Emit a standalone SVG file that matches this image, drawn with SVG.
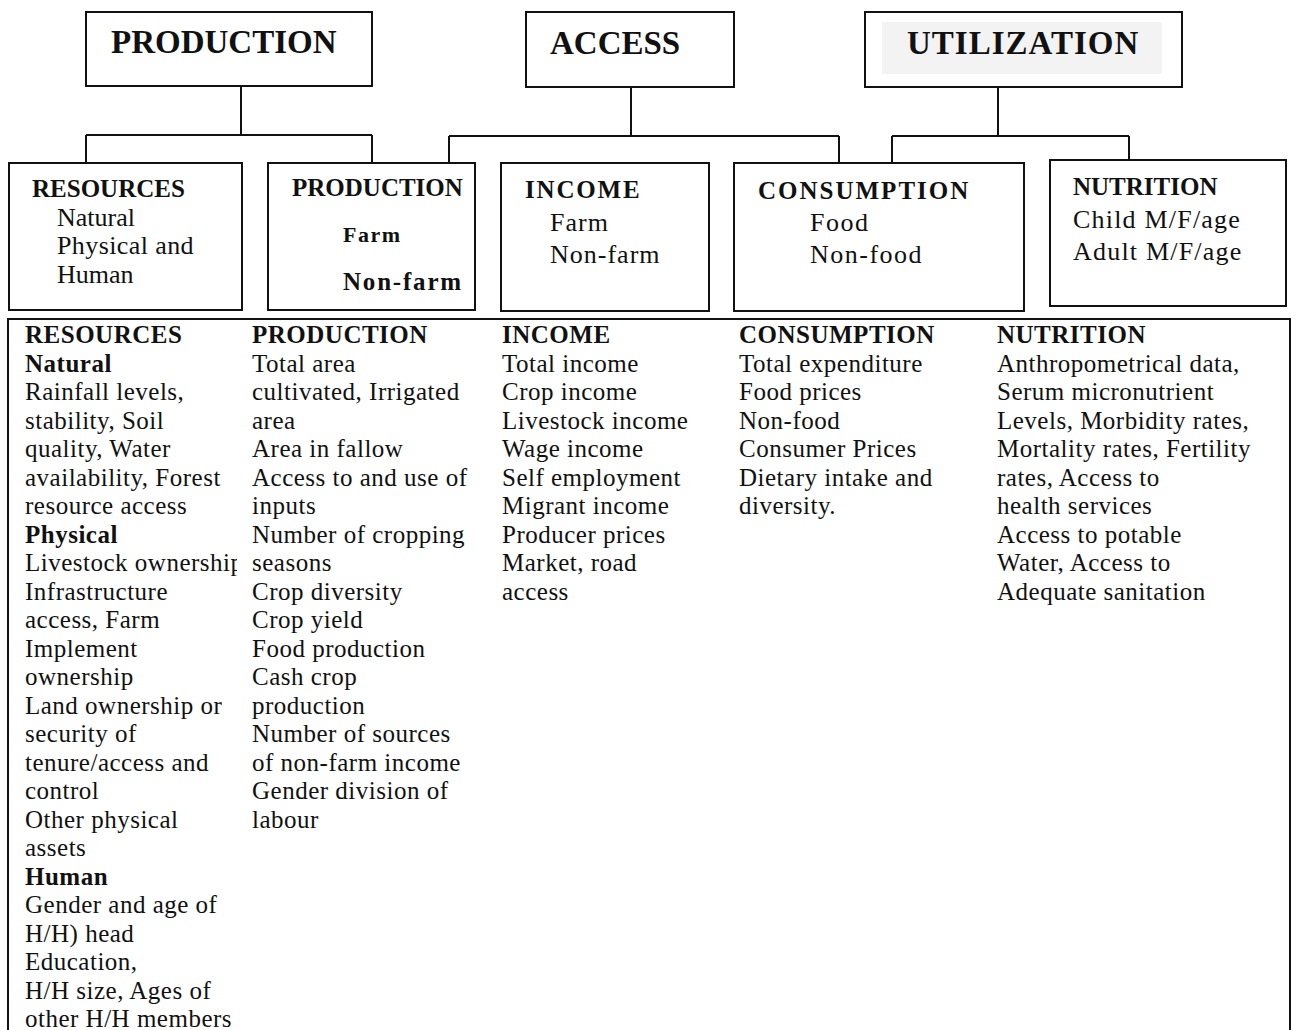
<svg xmlns="http://www.w3.org/2000/svg" width="1296" height="1030" viewBox="0 0 1296 1030">
  <style>
    .box { fill: #ffffff; stroke: #111111; stroke-width: 2; }
    .wire { fill: none; stroke: #111111; stroke-width: 2; }
    text { font-family: "Liberation Serif", "Times New Roman", serif; fill: #111111; }
    .title { font-size: 33px; font-weight: bold; }
    .head { font-size: 25px; font-weight: bold; }
    .item { font-size: 26px; }
    .cell { font-size: 25px; letter-spacing: 0.5px; }
    .b { font-weight: bold; }
  </style>
  <defs>
    <clipPath id="col1">
      <rect x="0" y="300" width="237" height="740"/>
    </clipPath>
  </defs>

  <rect width="1296" height="1030" fill="#ffffff"/>

  <!-- Pillar headings -->
  <g id="production-pillar">
    <rect class="box" x="86" y="12" width="286" height="74"/>
    <text class="title" x="111" y="53">PRODUCTION</text>
  </g>
  <g id="access-pillar">
    <rect class="box" x="526" y="12" width="208" height="75"/>
    <text class="title" x="550" y="54">ACCESS</text>
  </g>
  <g id="utilization-pillar">
    <rect class="box" x="865" y="12" width="317" height="75"/>
    <rect x="882" y="22" width="280" height="52" fill="#f3f3f3"/>
    <text class="title" x="907" y="54" letter-spacing="1">UTILIZATION</text>
  </g>

  <!-- Connectors from pillars to categories -->
  <g id="connectors">
    <path class="wire" d="M241,86 V135 M86,135 H372 M86,135 V163 M372,135 V163"/>
    <path class="wire" d="M631,87 V136 M449,136 H839 M449,136 V163 M839,136 V163"/>
    <path class="wire" d="M998,87 V136 M892,136 H1129 M892,136 V163 M1129,136 V160"/>
  </g>

  <!-- Category boxes -->
  <g id="resources">
    <rect class="box" x="9" y="163" width="233" height="147"/>
    <text class="head" x="32" y="197">RESOURCES</text>
    <text class="item" x="57" y="226" font-size="24">Natural</text>
    <text class="item" x="57" y="254" font-size="24" letter-spacing="0.4">Physical and</text>
    <text class="item" x="57" y="283" font-size="24">Human</text>
  </g>
  <g id="production">
    <rect class="box" x="268" y="163" width="207" height="147"/>
    <text class="head" x="292" y="196">PRODUCTION</text>
    <text class="b" x="343" y="242" font-size="22" letter-spacing="1.5">Farm</text>
    <text class="b" x="343" y="290" font-size="25" letter-spacing="1.8">Non-farm</text>
  </g>
  <g id="income">
    <rect class="box" x="501" y="163" width="208" height="148"/>
    <text class="head" x="525" y="198" font-size="26" letter-spacing="1.8">INCOME</text>
    <text class="item" x="550" y="231" letter-spacing="1">Farm</text>
    <text class="item" x="550" y="263" letter-spacing="1">Non-farm</text>
  </g>
  <g id="consumption">
    <rect class="box" x="734" y="163" width="290" height="148"/>
    <text class="head" x="758" y="199" font-size="26" letter-spacing="2">CONSUMPTION</text>
    <text class="item" x="810" y="231" letter-spacing="1.5">Food</text>
    <text class="item" x="810" y="263" letter-spacing="1.5">Non-food</text>
  </g>
  <g id="nutrition">
    <rect class="box" x="1050" y="160" width="236" height="146"/>
    <text class="head" x="1073" y="195">NUTRITION</text>
    <text class="item" x="1073" y="228" letter-spacing="1.2">Child M/F/age</text>
    <text class="item" x="1073" y="260" letter-spacing="1.2">Adult M/F/age</text>
  </g>

  <!-- Indicator table (open at the bottom) -->
  <g id="indicator-table">
    <path class="wire" d="M8,1032 V319 H1290 V1032"/>

    <text class="cell" clip-path="url(#col1)" x="25" y="343">
      <tspan class="b" x="25" y="343">RESOURCES</tspan>
      <tspan class="b" x="25" dy="28.5">Natural</tspan>
      <tspan x="25" dy="28.5">Rainfall levels,</tspan>
      <tspan x="25" dy="28.5">stability, Soil</tspan>
      <tspan x="25" dy="28.5">quality, Water</tspan>
      <tspan x="25" dy="28.5">availability, Forest</tspan>
      <tspan x="25" dy="28.5">resource access</tspan>
      <tspan class="b" x="25" dy="28.5">Physical</tspan>
      <tspan x="25" dy="28.5">Livestock ownership</tspan>
      <tspan x="25" dy="28.5">Infrastructure</tspan>
      <tspan x="25" dy="28.5">access, Farm</tspan>
      <tspan x="25" dy="28.5">Implement</tspan>
      <tspan x="25" dy="28.5">ownership</tspan>
      <tspan x="25" dy="28.5">Land ownership or</tspan>
      <tspan x="25" dy="28.5">security of</tspan>
      <tspan x="25" dy="28.5">tenure/access and</tspan>
      <tspan x="25" dy="28.5">control</tspan>
      <tspan x="25" dy="28.5">Other physical</tspan>
      <tspan x="25" dy="28.5">assets</tspan>
      <tspan class="b" x="25" dy="28.5">Human</tspan>
      <tspan x="25" dy="28.5">Gender and age of</tspan>
      <tspan x="25" dy="28.5">H/H) head</tspan>
      <tspan x="25" dy="28.5">Education,</tspan>
      <tspan x="25" dy="28.5">H/H size, Ages of</tspan>
      <tspan x="25" dy="28.5">other H/H members</tspan>
    </text>

    <text class="cell" x="252" y="343">
      <tspan class="b" x="252" y="343">PRODUCTION</tspan>
      <tspan x="252" dy="28.5">Total area</tspan>
      <tspan x="252" dy="28.5">cultivated, Irrigated</tspan>
      <tspan x="252" dy="28.5">area</tspan>
      <tspan x="252" dy="28.5">Area in fallow</tspan>
      <tspan x="252" dy="28.5">Access to and use of</tspan>
      <tspan x="252" dy="28.5">inputs</tspan>
      <tspan x="252" dy="28.5">Number of cropping</tspan>
      <tspan x="252" dy="28.5">seasons</tspan>
      <tspan x="252" dy="28.5">Crop diversity</tspan>
      <tspan x="252" dy="28.5">Crop yield</tspan>
      <tspan x="252" dy="28.5">Food production</tspan>
      <tspan x="252" dy="28.5">Cash crop</tspan>
      <tspan x="252" dy="28.5">production</tspan>
      <tspan x="252" dy="28.5">Number of sources</tspan>
      <tspan x="252" dy="28.5">of non-farm income</tspan>
      <tspan x="252" dy="28.5">Gender division of</tspan>
      <tspan x="252" dy="28.5">labour</tspan>
    </text>

    <text class="cell" x="502" y="343">
      <tspan class="b" x="502" y="343">INCOME</tspan>
      <tspan x="502" dy="28.5">Total income</tspan>
      <tspan x="502" dy="28.5">Crop income</tspan>
      <tspan x="502" dy="28.5">Livestock income</tspan>
      <tspan x="502" dy="28.5">Wage income</tspan>
      <tspan x="502" dy="28.5">Self employment</tspan>
      <tspan x="502" dy="28.5">Migrant income</tspan>
      <tspan x="502" dy="28.5">Producer prices</tspan>
      <tspan x="502" dy="28.5">Market, road</tspan>
      <tspan x="502" dy="28.5">access</tspan>
    </text>

    <text class="cell" x="739" y="343">
      <tspan class="b" x="739" y="343">CONSUMPTION</tspan>
      <tspan x="739" dy="28.5">Total expenditure</tspan>
      <tspan x="739" dy="28.5">Food prices</tspan>
      <tspan x="739" dy="28.5">Non-food</tspan>
      <tspan x="739" dy="28.5">Consumer Prices</tspan>
      <tspan x="739" dy="28.5">Dietary intake and</tspan>
      <tspan x="739" dy="28.5">diversity.</tspan>
    </text>

    <text class="cell" x="997" y="343">
      <tspan class="b" x="997" y="343">NUTRITION</tspan>
      <tspan x="997" dy="28.5">Anthropometrical data,</tspan>
      <tspan x="997" dy="28.5">Serum micronutrient</tspan>
      <tspan x="997" dy="28.5">Levels, Morbidity rates,</tspan>
      <tspan x="997" dy="28.5">Mortality rates, Fertility</tspan>
      <tspan x="997" dy="28.5">rates, Access to</tspan>
      <tspan x="997" dy="28.5">health services</tspan>
      <tspan x="997" dy="28.5">Access to potable</tspan>
      <tspan x="997" dy="28.5">Water, Access to</tspan>
      <tspan x="997" dy="28.5">Adequate sanitation</tspan>
    </text>
  </g>
</svg>
